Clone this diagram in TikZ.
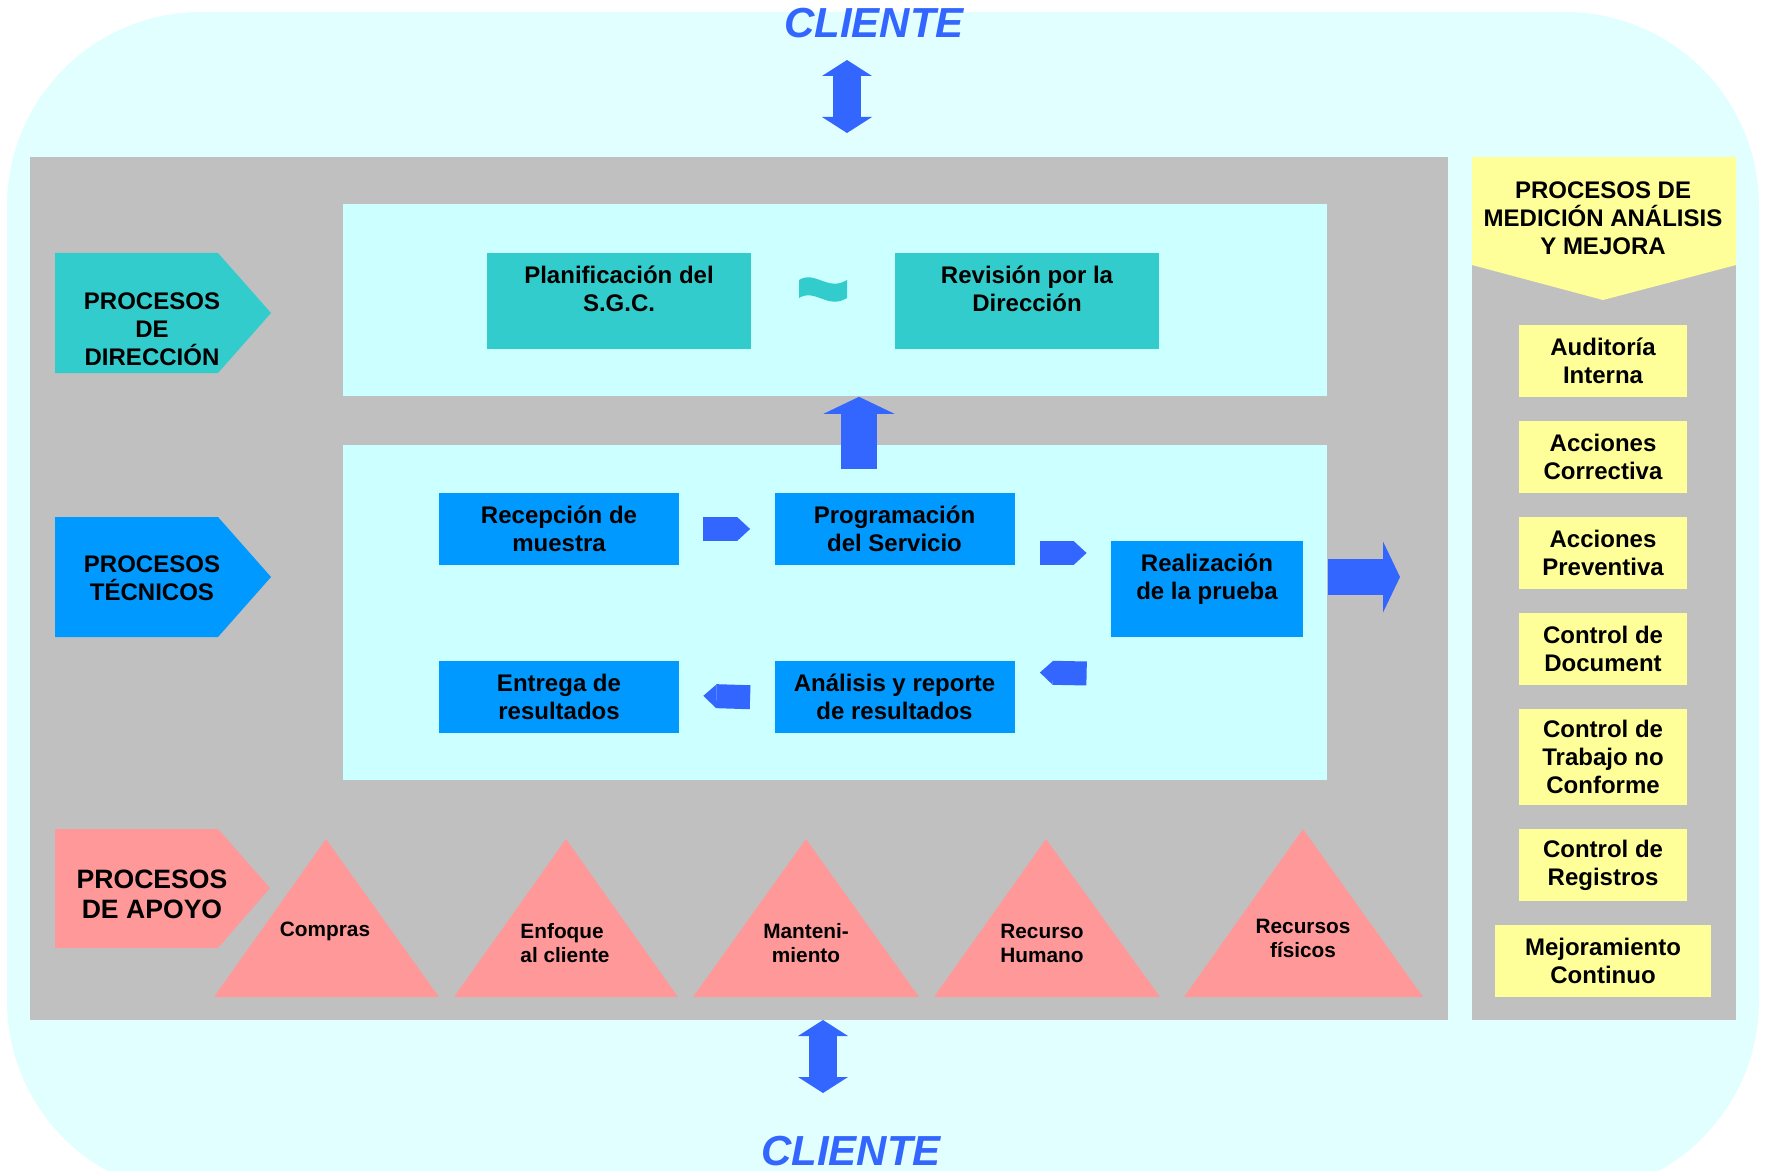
\documentclass[tikz,border=0pt]{standalone}
\usepackage{fontspec}
\setmainfont{Liberation Sans}
\usetikzlibrary{positioning,arrows.meta,calc}
\definecolor{skyback}{HTML}{E1FFFF}
\definecolor{panelcyan}{HTML}{CCFFFF}
\definecolor{panelgray}{HTML}{C0C0C0}
\definecolor{dirteal}{HTML}{33CCCC}
\definecolor{tecblue}{HTML}{0099FF}
\definecolor{flowblue}{HTML}{3366FF}
\definecolor{apoyopink}{HTML}{FF9999}
\definecolor{medyellow}{HTML}{FFFF99}
\tikzset{
  graypanel/.style={fill=panelgray, inner sep=0pt, anchor=north west},
  cyanpanel/.style={fill=panelcyan, inner sep=0pt, anchor=north west},
  proclabel/.style={align=center, inner sep=0pt},
  dirbox/.style={fill=dirteal, minimum width=132pt, minimum height=48pt, align=center, text height=25pt, text depth=14.5pt},
  tecbox/.style={fill=tecblue, minimum width=120pt, minimum height=36pt, align=center},
  medbox/.style={fill=medyellow, minimum width=84pt, minimum height=36pt, align=center},
  tritext/.style={font=\bfseries\fontsize{10.4}{12}\selectfont, align=center},
  apoyotri/.style={fill=apoyopink},
  chevarrow/.style={flowblue, line width=12pt, -{Triangle[length=6.5pt, width=12pt, line width=0pt]}},
  bigarrow/.style={flowblue, line width=18pt, -{Triangle[length=8.5pt, width=35.5pt, line width=0pt]}},
  clientarrow/.style={flowblue, line width=14pt, {Triangle[length=8pt, width=25pt, line width=0pt]}-{Triangle[length=8pt, width=25pt, line width=0pt]}},
  clientlabel/.style={text=flowblue, font=\bfseries\itshape\fontsize{21}{25}\selectfont}
}

\begin{document}
\begin{tikzpicture}[x=0.5pt, y=-0.5pt, every node/.style={font=\bfseries\fontsize{12}{14}\selectfont}]
  \useasboundingbox (0,0) rectangle (1770,1171);
  \fill[skyback, rounded corners=97pt] (7,12) rectangle (1759,1195);

  \node[clientlabel] (clitop) at (874,23) {CLIENTE};
  \node[clientlabel] (clibot) at (851,1151) {CLIENTE};
  \coordinate (ctop1) at (847,60);
  \coordinate (ctop2) at (847,133);
  \coordinate (cbot1) at (823,1020);
  \coordinate (cbot2) at (823,1093);
  \draw[clientarrow] (ctop1) -- (ctop2);
  \draw[clientarrow] (cbot1) -- (cbot2);

  \node[graypanel, minimum width=709pt, minimum height=431.5pt] (main) at (30,157) {};
  \node[graypanel, minimum width=132pt, minimum height=431.5pt] (medpanel) at (1472,157) {};
  \node[cyanpanel, minimum width=492pt, minimum height=96pt] (dirpanel) at (343,204) {};
  \node[cyanpanel, minimum width=492pt, minimum height=167.5pt] (tecpanel) at (343,445) {};

  \fill[dirteal] (55,253) -- (218,253) -- (271,313) -- (218,373) -- (55,373) -- cycle;
  \fill[tecblue] (55,517) -- (218,517) -- (271,577) -- (218,637) -- (55,637) -- cycle;
  \fill[apoyopink] (55,829) -- (218,829) -- (270,888) -- (218,948) -- (55,948) -- cycle;
  \node[proclabel] (dirlbl) at (152,329) {PROCESOS\\DE\\DIRECCIÓN};
  \node[proclabel] (teclbl) at (152,578) {PROCESOS\\TÉCNICOS};
  \node[proclabel, font=\bfseries\fontsize{13.3}{15}\selectfont] (apolbl) at (152,894) {PROCESOS\\DE APOYO};

  \node[dirbox] (planif) at (619,301) {Planificación del\\S.G.C.};
  \node[dirbox] (revis) at (1027,301) {Revisión por la\\Dirección};
  \fill[dirteal] (799,280) .. controls (815,270) and (828,292) .. (847,280)
    -- (847,298) .. controls (828,310) and (815,288) .. (799,298) -- cycle;

  \node[tecbox] (recep) at (559,529) {Recepción de\\muestra};
  \node[tecbox] (prog) at (894.5,529) {Programación\\del Servicio};
  \node[tecbox, minimum width=96pt, minimum height=48pt, text height=25pt, text depth=14.5pt] (real) at (1207,589) {Realización\\de la prueba};
  \node[tecbox] (anal) at (894.5,697) {Análisis y reporte\\de resultados};
  \node[tecbox] (entrega) at (559,697) {Entrega de\\resultados};

  \draw[chevarrow, shorten <=12pt, shorten >=12pt] (recep) -- (prog);
  \draw[chevarrow, shorten <=12.5pt, shorten >=12pt] ([yshift=-12pt]prog.east) -- ([yshift=-12pt]prog.east -| real.west);
  \draw[chevarrow, shorten <=12pt, shorten >=12.5pt] ($(real.west)+(0,85)$) -- ($(anal.east)+(0,-25)$);
  \draw[chevarrow, shorten <=12pt, shorten >=12pt] ($(anal.west)+(0,1)$) -- ($(entrega.east)+(0,-2)$);

  \coordinate (upfoot) at (859,469);
  \draw[bigarrow] (upfoot) -- (upfoot |- dirpanel.south);
  \coordinate (outtip) at (1400,577);
  \draw[bigarrow] (tecpanel.east |- outtip) -- (outtip);

  \fill[apoyotri] (214,997) -- (326,839) -- (439,997) -- cycle;
  \fill[apoyotri] (454,997) -- (566,839) -- (678,997) -- cycle;
  \fill[apoyotri] (693,997) -- (806,839) -- (919,997) -- cycle;
  \fill[apoyotri] (934,997) -- (1046,839) -- (1160,997) -- cycle;
  \fill[apoyotri] (1184,997) -- (1303,829) -- (1423,997) -- cycle;
  \node[tritext] (compras) at (325,931) {Compras};
  \node[tritext, align=left] (enfoque) at (565,943) {Enfoque\\al cliente};
  \node[tritext] (manten) at (806,943) {Manteni-\\miento};
  \node[tritext] (rhumano) at (1042,943) {Recurso\\Humano};
  \node[tritext] (rfisicos) at (1303,938) {Recursos\\físicos};

  \fill[medyellow] (1472,157) -- (1736,157) -- (1736,265) -- (1603,300) -- (1472,265) -- cycle;
  \node[proclabel] (medhead) at (1603,218) {PROCESOS DE\\MEDICIÓN ANÁLISIS\\Y MEJORA};
  \node[medbox] (audit) at (1603,361) {Auditoría\\Interna};
  \node[medbox] (correc) at (1603,457) {Acciones\\Correctiva};
  \node[medbox] (prevent) at (1603,553) {Acciones\\Preventiva};
  \node[medbox] (docum) at (1603,649) {Control de\\Document};
  \node[medbox, minimum height=48pt] (trabajo) at (1603,757) {Control de\\Trabajo no\\Conforme};
  \node[medbox] (regist) at (1603,865) {Control de\\Registros};
  \node[medbox, minimum width=108pt] (mejora) at (1603,961) {Mejoramiento\\Continuo};
\end{tikzpicture}
\end{document}
